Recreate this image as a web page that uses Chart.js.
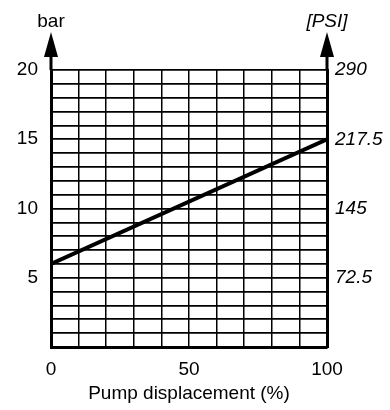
<!DOCTYPE html>
<html>
<head>
<meta charset="utf-8">
<script src="https://cdn.jsdelivr.net/npm/chart.js@4/dist/chart.umd.min.js"></script>
<style>
  html, body { margin: 0; padding: 0; background: #fff; }
  #wrap { width: 390px; height: 410px; }
</style>
</head>
<body>
<div id="wrap"><canvas id="myChart"></canvas></div>
<script>
// displacement (%) and pressure (bar)
const displacement = [0, 100];
const pressure = [6, 15];
const barTicks = [5, 10, 15, 20];
const psiValues = [72.5, 145, 217.5, 290];
const psiTicks = ["72.5", "145", "217.5", "290"];
const xTicks = [0, 50, 100];

const ctx = document.getElementById("myChart");
const font = "'Liberation Sans', Arial, sans-serif";
const fontSize = 19;

// arrows on both y axes + axis unit labels
const axisArrows = {
  id: "axisArrows",
  afterDraw(chart) {
    const c = chart.ctx;
    const top = chart.chartArea.top;
    const xs = [chart.scales.y.right, chart.scales.y2.left];
    c.save();
    c.fillStyle = "#000";
    c.strokeStyle = "#000";
    c.lineWidth = 3;
    xs.forEach((x) => {
      c.beginPath();
      c.moveTo(x, top);
      c.lineTo(x, top - 16);
      c.stroke();
      c.beginPath();
      c.moveTo(x, top - 38);
      c.lineTo(x - 7, top - 13);
      c.lineTo(x + 7, top - 13);
      c.closePath();
      c.fill();
    });
    c.textBaseline = "alphabetic";
    c.textAlign = "center";
    c.font = fontSize + "px " + font;
    c.fillText("bar", xs[0], 27);
    c.font = "italic " + fontSize + "px " + font;
    c.fillText("[PSI]", xs[1], 27);
    c.restore();
  },
};

new Chart(ctx, {
  type: "line",
  data: {
    labels: displacement,
    datasets: [
      {
        data: displacement.map((d, i) => ({ x: d, y: pressure[i] })),
        borderColor: "#000",
        borderWidth: 4,
        pointRadius: 0,
        yAxisID: "y",
      },
    ],
  },
  options: {
    responsive: true,
    maintainAspectRatio: false,
    animation: false,
    layout: { padding: { top: 70, left: 0, right: 0, bottom: 0 } },
    plugins: { legend: { display: false }, tooltip: { enabled: false } },
    scales: {
      x: {
        type: "linear",
        min: 0,
        max: 100,
        afterFit: (s) => { s.height = 63; },
        border: { display: true, color: "#000", width: 3 },
        grid: { color: "#000", lineWidth: 1.5, drawTicks: false },
        ticks: {
          stepSize: 10,
          autoSkip: false,
          maxRotation: 0,
          minRotation: 0,
          padding: 11,
          color: "#000",
          font: { family: font, size: fontSize },
          callback: (v) => (xTicks.includes(v) ? String(v) : ""),
        },
        title: {
          display: true,
          text: "Pump displacement (%)",
          color: "#000",
          font: { family: font, size: fontSize },
          padding: { top: 0, bottom: 5 },
        },
      },
      y: {
        position: "left",
        min: 0,
        max: 20,
        afterFit: (s) => { s.width = 51; },
        border: { display: true, color: "#000", width: 3 },
        grid: { color: "#000", lineWidth: 1.7, drawTicks: false },
        ticks: {
          stepSize: 1,
          autoSkip: false,
          padding: 13,
          color: "#000",
          font: { family: font, size: fontSize },
          callback: (v) => (barTicks.includes(v) ? String(v) : ""),
        },
      },
      y2: {
        position: "right",
        min: 0,
        max: 290,
        afterFit: (s) => { s.width = 63; },
        border: { display: true, color: "#000", width: 3 },
        grid: { display: false, drawTicks: false },
        ticks: {
          stepSize: 72.5,
          autoSkip: false,
          padding: 8,
          color: "#000",
          font: { family: font, size: fontSize, style: "italic" },
          callback: (v) => {
            const i = psiValues.indexOf(v);
            return i >= 0 ? psiTicks[i] : "";
          },
        },
      },
    },
  },
  plugins: [axisArrows],
});
</script>
</body>
</html>
